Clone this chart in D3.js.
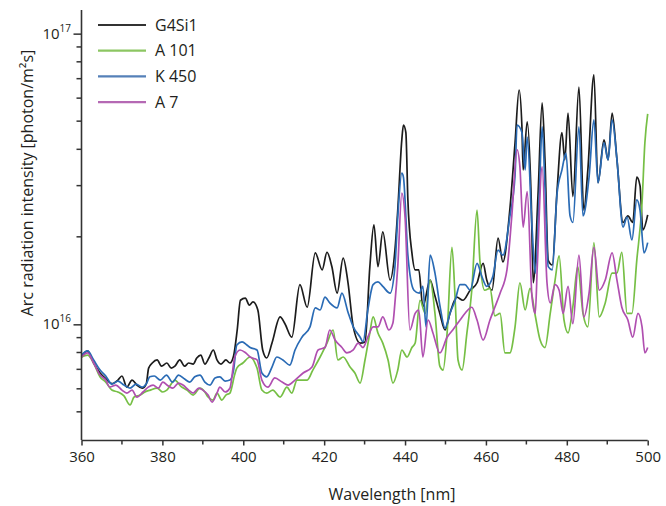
<!DOCTYPE html>
<html>
<head>
<meta charset="utf-8">
<script src="https://cdn.jsdelivr.net/npm/d3@7"></script>
<style>
  html, body { margin: 0; padding: 0; background: #fff; }
  svg { display: block; }
  text { font-family: "Open Sans", "Noto Sans", sans-serif; fill: #231f20; }
</style>
</head>
<body>
<svg id="chart" width="666" height="506"></svg>
<script>
// ---- data (intensity values in units of 1e15 photon/m²s) ----
const UNIT = 1e15;
const seriesNames = ["G4Si1", "A 101", "K 450", "A 7"];

const wlG4Si1 = [360,361.5,363,364.6,366,367.5,369,370,371.2,372.5,373.7,375,376,376.6,377.5,378.7,379.8,381.1,382.2,383.1,384.3,385.5,386.5,387.6,388.5,389.5,390.5,391.5,392.6,393.5,394.5,395.7,396.7,397.6,398.5,399.3,400.5,401.5,402.4,403.6,404.8,405.8,407.1,409.1,410.3,412,414,415.8,417.8,419.5,420.7,421.9,423.2,424.7,425.9,427.2,428.9,430.1,431.3,432.3,433.3,434.5,436.3,437.5,438.2,439.2,439.6,440.2,440.7,441.7,442.5,443.4,444.4,446.2,447.2,448.6,449.9,451.1,452.8,454.3,456.1,457.8,459.3,460.2,461.5,463,464.2,465.9,467.2,468.2,468.9,469.2,470.2,471.2,471.7,472.9,473.9,474.6,475.4,476.4,477.6,478.8,479.5,480.3,481.5,483,484.2,485.2,486.7,487.7,489.2,490.2,491.2,492.4,493.9,495.1,496.3,497.3,498.1,498.8,500];
const valG4Si1 = [7.72,8.1,7.36,6.8,6.5,6.25,6.43,6.64,6.08,6.43,6.18,6.03,6.23,7.07,7.36,7.54,7.18,7.36,7.07,7.18,7.54,7.18,7.36,7.3,7.66,7.84,7.3,7.66,8.16,7.54,7.3,7.54,7.36,7.78,9.56,12.1,12.3,11.65,11.95,11.2,8.16,7.66,8.62,10.6,10.05,9.03,13.7,11.45,17.6,15.4,17.7,15.8,12.8,16.9,13.9,9.8,8.62,8.7,15.8,22.0,15.8,20.8,14.2,18.0,24.7,43.1,48.5,45.7,26.8,17.6,15.4,15.4,11.5,14.2,12.8,10.9,9.56,10.9,12.4,12.1,13.1,13.9,16.2,14.2,13.1,19.8,16.4,24.7,42.1,64.0,47.8,34.0,49.7,26.8,13.9,28.3,57.8,36.8,16.6,16.0,29.0,45.7,36.8,53.3,27.5,65.5,24.7,34.0,72.1,30.7,43.1,36.8,53.3,36.8,22.4,23.6,22.4,32.1,30.0,21.1,23.8];

const wlA101 = [360,361.5,363,364.6,366,367.5,369,370.5,372,373,374.5,375.7,377,378.7,380.1,381.1,383.1,384.5,386.1,387.6,389.3,390.5,391.3,392.5,393.5,394.7,395.7,396.7,397.9,398.4,399.9,401.7,402.9,403.4,404.6,405.8,407.3,409.1,410.8,412,413.3,415.8,417.2,419,420.7,422.2,423.4,424.7,426.4,427.6,428.9,430.1,431.3,432.1,433.3,434.5,435.8,437,438.2,439.2,440.5,441.7,442.5,443.7,445,446.2,447.4,448.6,449.4,450.4,451.6,452.4,453.1,454.1,455.3,456.5,457.8,458.5,459.7,461,462.2,463.5,464.7,465.9,467.2,468.4,469.7,470.9,472.2,473.4,474.6,475.9,477.1,478.1,479.3,480.3,481.5,482.7,484,485.2,486.7,488,489.5,491.2,492.4,493.6,494.9,496.1,497.3,498.6,499.3,500];
const valA101 = [7.72,7.84,7.36,6.59,6.33,5.94,5.85,5.67,5.28,5.62,5.71,5.85,5.94,6.03,5.85,5.94,6.43,6.13,5.94,5.71,6.03,5.85,5.62,5.49,5.8,5.49,5.71,5.8,6.74,7.07,7.36,7.72,7.36,7.07,5.94,5.8,5.94,5.62,6.08,5.8,6.43,6.43,6.96,7.72,8.62,9.56,7.54,7.72,7.13,6.8,6.28,7.54,9.34,10.6,9.34,8.62,7.54,6.28,6.96,8.16,7.72,8.32,8.62,12.1,10.9,14.2,10.9,7.18,6.96,9.34,18.4,12.1,7.54,6.96,9.34,13.1,24.7,16.6,13.1,13.3,10.7,10.9,7.97,7.97,9.8,13.9,11.2,13.3,10.7,8.83,8.32,10.9,14.2,17.2,10.35,9.34,11.5,15.8,10.9,9.8,19.1,10.6,11.85,15.0,15.0,17.7,10.9,10.9,16.6,26.2,42.1,53];

const wlK450 = [360,361.5,363,364.6,366,367.5,369,370.5,372,373.5,375,376,376.9,378,379.5,381,382.5,384,385.5,386.8,388,389.3,390.5,391.8,393,394.2,395.5,396.7,397.6,398.4,399.7,400.9,401.7,403.4,404.6,405.8,407.1,408.3,409.8,411.5,412.8,414.5,416.5,417.8,419,420.2,421.4,423.2,424.4,425.9,427.2,428.9,429.6,430.8,432.1,433.3,434.5,436.3,437.5,438.2,439.2,439.6,440.7,442.2,443.5,444.4,445.2,446.2,447.4,448.6,449.9,451.1,452.4,453.6,454.8,456.1,457.8,459,460.2,461.7,463,464.2,465.9,467.2,467.7,468.9,469.7,470.2,471.4,472.2,473.2,473.9,474.6,475.4,476.4,477.6,478.8,479.8,480.8,481.5,483,484,485.5,486.7,487.7,489.2,490.2,491.2,492.4,493.9,494.9,496.1,497.3,498.1,499.1,500];
const valK450 = [7.84,8.1,7.54,6.96,6.64,6.23,6.38,6.18,6.03,6.23,6.08,6.23,6.6,6.64,6.43,6.69,6.33,6.69,6.48,6.33,6.6,6.69,6.33,6.18,6.54,6.6,6.38,6.43,6.96,8.49,8.7,8.49,8.32,8.16,6.8,6.6,7.13,7.72,7.54,7.24,8.16,9.03,9.8,11.4,11.2,12.4,11.85,11.4,12.8,11.0,9.8,9.03,8.7,11.2,13.7,14.0,13.5,12.8,15.8,23.4,33.1,32.1,17.3,13.1,12.8,13.5,9.8,17.3,15.0,11.65,9.7,10.9,12.1,13.7,13.7,13.1,16.2,14.6,13.5,14.6,18.0,17.3,23.4,32.6,48.5,45.7,34.0,44.1,21.6,15.0,28.3,47.8,29.7,15.8,15.4,28.3,34.0,38.8,23.6,22.4,47.8,23.6,32.1,50.5,30.7,42.1,36.8,50.5,36.8,21.6,23.4,19.5,26.8,24.7,17.6,19.1];

const wlA7 = [360,361.5,363,364.6,366,367,368.5,370,371.2,372.5,373.7,375.2,376.5,377.7,379,380.1,381.5,382.6,384,385.1,386.5,387.6,389,390,391.3,392.3,393.5,394.2,395.5,396.7,397.9,399.2,400.5,401.7,403.4,404.6,406.1,407.8,409.6,411.1,412.8,414.8,417,418.5,420.2,421.4,422.7,424.4,425.6,427.2,428.4,429.6,430.8,432.1,433.3,434.5,436,437,437.5,438.2,439.2,440,441.2,442.5,443.4,444.4,445.7,446.9,448.6,450.4,451.8,453.6,454.8,456.5,457.8,459.3,461,462.2,463.5,465.2,466.4,467.7,468.4,469.2,470.2,471.4,472.2,472.7,473.9,475.1,475.9,477.1,478.1,479.1,480.3,481.5,483,484.2,485.5,486.7,488,489.5,491.2,492.4,493.6,495.1,496.3,497.6,498.6,499.3,500];
const valA7 = [7.72,7.97,7.36,6.69,6.43,6.08,6.18,5.94,5.8,5.94,5.62,5.85,6.08,6.18,6.03,6.33,6.13,6.03,6.28,6.18,5.94,5.8,6.03,5.94,5.71,5.4,5.8,6.08,5.85,6.03,7.72,8.16,8.0,7.72,7.54,6.43,6.08,6.54,6.33,6.18,6.43,6.8,7.13,8.16,8.32,9.56,8.83,8.32,7.97,8.16,8.62,8.32,9.03,9.8,9.8,10.6,9.56,10.1,11.85,15.8,28.3,23.4,9.56,10.9,11.2,7.72,10.35,9.34,7.97,9.03,9.56,10.35,10.9,11.45,10.35,8.83,10.35,11.45,12.8,15.4,23.6,39.8,34.8,21.6,28.6,12.4,10.9,15.8,34.8,13.9,11.85,13.7,13.1,10.9,13.5,10.05,17.3,10.6,12.8,18.4,13.1,14.2,17.6,14.2,11.45,10.35,9.03,10.9,9.8,7.97,8.32];

const xTicks = [360, 380, 400, 420, 440, 460, 480, 500];
const xMinorTicks = [370, 390, 410, 430, 450, 470, 490];
const yMajorTicks = [1e16, 1e17];
const yExponents = ["16", "17"];
const yMinorTicks = [5e15, 6e15, 7e15, 8e15, 9e15, 2e16, 3e16, 4e16, 5e16, 6e16, 7e16, 8e16, 9e16];

// ---- drawing ----
const colors = { "G4Si1": "#1c1c1c", "A 101": "#76bf45", "K 450": "#2a6bb5", "A 7": "#b04fb0" };
const legendColors = { "G4Si1": "#333333", "A 101": "#8cc662", "K 450": "#5580b8", "A 7": "#b569b4" };

const svg = d3.select("#chart");
const x = d3.scaleLinear().domain([360, 500]).range([81.5, 647.7]);
const y = d3.scaleLog().domain([4.0e15, 1.206e17]).range([440, 10]);

function pts(wl, val) {
  const n = Math.min(wl.length, val.length);
  return d3.range(n).map(i => ({ wl: wl[i], v: val[i] * UNIT }));
}
const series = [
  { name: "G4Si1", data: pts(wlG4Si1, valG4Si1) },
  { name: "A 101", data: pts(wlA101, valA101) },
  { name: "K 450", data: pts(wlK450, valK450) },
  { name: "A 7", data: pts(wlA7, valA7) }
];

const line = d3.line().x(d => x(d.wl)).y(d => y(d.v)).curve(d3.curveMonotoneX);

const drawOrder = ["G4Si1", "A 101", "K 450", "A 7"];
svg.append("g").selectAll("path")
  .data(drawOrder.map(n => series.find(s => s.name === n)))
  .join("path")
  .attr("d", d => line(d.data))
  .attr("fill", "none")
  .attr("stroke", d => colors[d.name])
  .attr("stroke-width", 1.7)
  .attr("stroke-linejoin", "round");

// x axis
const gx = svg.append("g").attr("transform", "translate(0,440.5)");
gx.call(d3.axisBottom(x).tickValues(xTicks).tickSize(5).tickSizeOuter(0).tickPadding(6).tickFormat(d3.format("d")));
gx.append("g").selectAll("line").data(xMinorTicks).join("line")
  .attr("x1", d => x(d)).attr("x2", d => x(d)).attr("y1", 0).attr("y2", 4)
  .attr("stroke", "#333").attr("stroke-width", 1.5);
gx.select(".domain").attr("stroke", "#333").attr("stroke-width", 1.6)
  .attr("d", `M${x(360)},0H${x(500)}`);
gx.selectAll(".tick line").attr("stroke", "#333").attr("stroke-width", 1.5);
gx.selectAll(".tick text").attr("font-size", 15).attr("fill", "#231f20")
  .attr("font-family", "'Open Sans', 'Noto Sans', sans-serif");

// y axis
const gy = svg.append("g").attr("transform", "translate(81.5,0)");
gy.call(d3.axisLeft(y).tickValues(yMajorTicks).tickSize(8).tickSizeOuter(0).tickFormat(() => ""));
gy.select(".domain").attr("stroke", "#333").attr("stroke-width", 1.6)
  .attr("d", `M0,${y(4.0e15)}V${y(1.206e17)}`);
gy.selectAll(".tick line").attr("stroke", "#333").attr("stroke-width", 1.5);
gy.append("g").selectAll("line").data(yMinorTicks).join("line")
  .attr("x1", -5).attr("x2", 0).attr("y1", d => y(d)).attr("y2", d => y(d))
  .attr("stroke", "#333").attr("stroke-width", 1.5);

const ylab = svg.append("g").selectAll("text").data(yMajorTicks).join("text")
  .attr("x", 71).attr("y", d => y(d) + 5)
  .attr("text-anchor", "end").attr("font-size", 15);
ylab.append("tspan").text("10");
ylab.append("tspan").attr("font-size", 10).attr("dy", -7).text((d, i) => yExponents[i]);

// axis titles
svg.append("text").attr("x", 392).attr("y", 500).attr("text-anchor", "middle")
  .attr("font-size", 16).text("Wavelength [nm]");
svg.append("text").attr("transform", "translate(33,183) rotate(-90)").attr("text-anchor", "middle")
  .attr("font-size", 16).text("Arc radiation intensity [photon/m²s]");

// legend
const lg = svg.append("g").selectAll("g").data(seriesNames).join("g")
  .attr("transform", (d, i) => `translate(98,${25 + i * 25.7})`);
lg.append("line").attr("x1", 0).attr("x2", 48).attr("y1", 0).attr("y2", 0)
  .attr("stroke", d => legendColors[d]).attr("stroke-width", 2.2);
lg.append("text").attr("x", 57).attr("y", 5.5).attr("font-size", 16).text(d => d);
</script>
</body>
</html>
